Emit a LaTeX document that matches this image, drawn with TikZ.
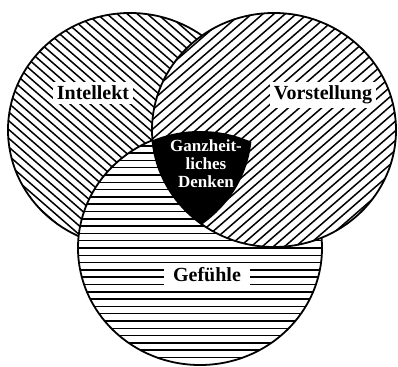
\documentclass[tikz,border=0pt]{standalone}
\usepackage{fontspec}
\setmainfont{Liberation Serif}
\begin{document}
\begin{tikzpicture}[x=1pt, y=-1pt,
ring/.style={x radius=122, y radius=117},
hatch/.style={line width=1.5pt},
rim/.style={line width=1.8pt},
namebox/.style={fill=white, inner sep=4pt, anchor=base, font=\bfseries\fontsize{20}{22}\selectfont}
]
\useasboundingbox (0,0) rectangle (398,366);
\coordinate (cI) at (130,130);
\coordinate (cV) at (274,130);
\coordinate (cG) at (200,248);
% Intellekt
\begin{scope}
\clip (cI) ellipse [ring];
\fill[white] (cI) ellipse [ring];
\foreach \k in {-21,...,21}
  \draw[hatch, shift={(cI)}, rotate=-41] (-150,\k*6.6) -- (150,\k*6.6);
\end{scope}
\draw[rim] (cI) ellipse [ring];
% Gefuehle
\begin{scope}
\clip (cG) ellipse [ring];
\fill[white] (cG) ellipse [ring];
\foreach \k in {-17,...,17}
  \draw[hatch, shift={(cG)}] (-130,\k*7.3) -- (130,\k*7.3);
\end{scope}
\draw[rim] (cG) ellipse [ring];
% Vorstellung
\begin{scope}
\clip (cV) ellipse [ring];
\fill[white] (cV) ellipse [ring];
\foreach \k in {-20,...,20}
  \draw[hatch, shift={(cV)}, rotate=41] (-150,\k*7.3) -- (150,\k*7.3);
\end{scope}
\draw[rim] (cV) ellipse [ring];
% Mitte
\begin{scope}
\clip (cI) ellipse [ring];
\clip (cV) ellipse [ring];
\fill (cG) ellipse [ring];
\end{scope}
\node[namebox] (intellekt) at (93,100) {Intellekt};
\node[namebox] (vorstellung) at (323,100) {Vorstellung};
\node[namebox, inner xsep=9pt] (gefuehle) at (207,281) {Gefühle};
\node[text=white, align=center, inner sep=0pt, font=\bfseries\fontsize{17}{18}\selectfont] (denken) at (206,164) {Ganzheit-\\liches\\Denken};
\end{tikzpicture}
\end{document}
